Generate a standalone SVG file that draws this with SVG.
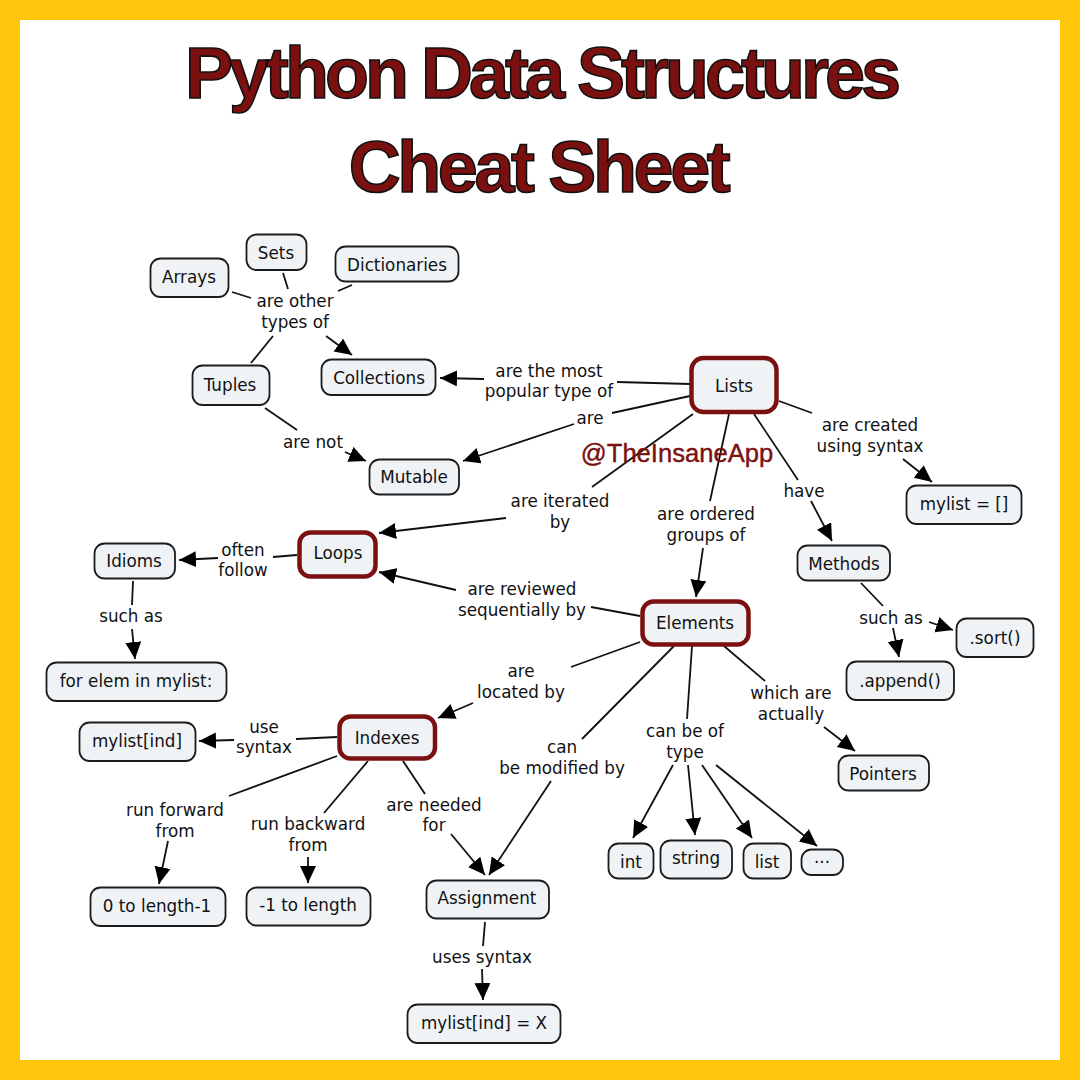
<svg xmlns="http://www.w3.org/2000/svg" width="1080" height="1080" viewBox="0 0 1080 1080">
<style>
.t{font-family:"DejaVu Sans","Liberation Sans",sans-serif;font-size:16.8px;fill:#111;text-anchor:middle;transform:translateY(.6px)}
.n{fill:#eff3f6;stroke:#1c1c1c;stroke-width:1.8}
.h{fill:#eff3f6;stroke:#7b1010;stroke-width:4.5}
.c line{stroke:#111;stroke-width:1.8}
.a{marker-end:url(#ah)}
.title{font-family:"Liberation Sans",Arial,sans-serif;font-weight:bold;font-size:72px;letter-spacing:-4px;fill:#7b1010;stroke:#111;stroke-width:1.6;text-anchor:middle}
</style>
<defs><marker id="ah" markerUnits="userSpaceOnUse" markerWidth="19" markerHeight="17" refX="17" refY="8" orient="auto" viewBox="0 0 19 17"><path d="M0 0L17 8L0 16Z" fill="#000"/></marker></defs>
<rect width="1080" height="1080" fill="#ffc60b"/>
<rect x="20" y="20" width="1040" height="1040" fill="#fff"/>
<text class="title" x="541" y="98">Python Data Structures</text>
<text class="title" x="538" y="192" style="letter-spacing:-3.4px">Cheat Sheet</text>
<g id="connectors" class="c">
<line x1="283" y1="273" x2="288" y2="289"/><line x1="232" y1="292" x2="251" y2="298"/><line x1="352" y1="285" x2="338" y2="291"/><line x1="273" y1="336" x2="251" y2="363"/>
<line class="a" x1="326" y1="336" x2="352" y2="355"/>
<line x1="265" y1="408" x2="297" y2="430"/><line class="a" x1="345" y1="452" x2="366" y2="461"/>
<line x1="690" y1="384" x2="617" y2="382"/><line class="a" x1="484" y1="379" x2="440" y2="378"/>
<line x1="690" y1="396" x2="612" y2="413"/><line class="a" x1="574" y1="424" x2="463" y2="461"/>
<line x1="693" y1="414" x2="592" y2="487"/><line class="a" x1="506" y1="518" x2="379" y2="533"/>
<line x1="729" y1="414" x2="710" y2="501"/><line class="a" x1="703" y1="548" x2="696" y2="597"/>
<line x1="754" y1="414" x2="798" y2="480"/><line class="a" x1="811" y1="501" x2="832" y2="541"/>
<line x1="779" y1="401" x2="812" y2="413"/><line class="a" x1="903" y1="459" x2="932" y2="482"/>
<line x1="640" y1="616" x2="591" y2="607"/><line class="a" x1="456" y1="590" x2="379" y2="572"/>
<line x1="297" y1="555" x2="273" y2="557"/><line class="a" x1="218" y1="558" x2="179" y2="560"/>
<line x1="133" y1="581" x2="132" y2="605"/><line class="a" x1="132" y1="629" x2="135" y2="659"/>
<line x1="861" y1="583" x2="883" y2="606"/><line class="a" x1="929" y1="622" x2="953" y2="630"/><line class="a" x1="893" y1="628" x2="899" y2="657"/>
<line x1="640" y1="642" x2="571" y2="667"/><line class="a" x1="473" y1="703" x2="438" y2="718"/>
<line x1="337" y1="737" x2="296" y2="739"/><line class="a" x1="234" y1="740" x2="199" y2="741"/>
<line x1="337" y1="756" x2="229" y2="796"/><line class="a" x1="168" y1="841" x2="159" y2="884"/>
<line x1="368" y1="761" x2="324" y2="813"/><line class="a" x1="308" y1="857" x2="308" y2="883"/>
<line x1="403" y1="761" x2="425" y2="794"/><line class="a" x1="451" y1="834" x2="485" y2="875"/>
<line x1="674" y1="646" x2="582" y2="739"/><line class="a" x1="551" y1="781" x2="489" y2="875"/>
<line x1="692" y1="646" x2="687" y2="719"/>
<line x1="724" y1="646" x2="765" y2="681"/><line class="a" x1="824" y1="727" x2="855" y2="751"/>
<line class="a" x1="673" y1="765" x2="633" y2="838"/><line class="a" x1="688" y1="765" x2="695" y2="835"/><line class="a" x1="702" y1="765" x2="752" y2="838"/><line class="a" x1="716" y1="765" x2="817" y2="846"/>
<line x1="485" y1="922" x2="483" y2="946"/><line class="a" x1="482" y1="969" x2="483" y2="1000"/>
</g>
<g id="labels">
<text class="t" x="295" y="306">are other</text><text class="t" x="295" y="327">types of</text>
<text class="t" x="313" y="447">are not</text>
<text class="t" x="549" y="376">are the most</text><text class="t" x="549" y="396">popular type of</text>
<text class="t" x="590" y="423">are</text>
<text class="t" x="560" y="506">are iterated</text><text class="t" x="560" y="527">by</text>
<text class="t" x="706" y="519">are ordered</text><text class="t" x="706" y="540">groups of</text>
<text class="t" x="804" y="496">have</text>
<text class="t" x="870" y="430">are created</text><text class="t" x="870" y="451">using syntax</text>
<text class="t" x="522" y="594">are reviewed</text><text class="t" x="522" y="615">sequentially by</text>
<text class="t" x="243" y="555">often</text><text class="t" x="243" y="575">follow</text>
<text class="t" x="131" y="621">such as</text>
<text class="t" x="891" y="623">such as</text>
<text class="t" x="521" y="676">are</text><text class="t" x="521" y="697">located by</text>
<text class="t" x="264" y="732">use</text><text class="t" x="264" y="752">syntax</text>
<text class="t" x="175" y="815">run forward</text><text class="t" x="175" y="836">from</text>
<text class="t" x="308" y="829">run backward</text><text class="t" x="308" y="850">from</text>
<text class="t" x="434" y="810">are needed</text><text class="t" x="434" y="830">for</text>
<text class="t" x="562" y="752">can</text><text class="t" x="562" y="773">be modified by</text>
<text class="t" x="685" y="736">can be of</text><text class="t" x="685" y="757">type</text>
<text class="t" x="791" y="698">which are</text><text class="t" x="791" y="719">actually</text>
<text class="t" x="482" y="962">uses syntax</text>
</g>
<g id="arrays"><rect class="n" x="150.500" y="258.500" width="78" height="38.500" rx="10"/><text class="t" x="189" y="282">Arrays</text></g>
<g id="sets"><rect class="n" x="246.500" y="234.500" width="60" height="35.500" rx="10"/><text class="t" x="276" y="258">Sets</text></g>
<g id="dictionaries"><rect class="n" x="335.500" y="246.500" width="123" height="35" rx="10"/><text class="t" x="397" y="270">Dictionaries</text></g>
<g id="collections"><rect class="n" x="321.500" y="359.500" width="114" height="35.500" rx="10"/><text class="t" x="379" y="383">Collections</text></g>
<g id="tuples"><rect class="n" x="192.500" y="365.500" width="77" height="39.500" rx="10"/><text class="t" x="230" y="390">Tuples</text></g>
<g id="mutable"><rect class="n" x="369.500" y="459.500" width="89.500" height="35" rx="10"/><text class="t" x="414" y="482">Mutable</text></g>
<g id="lists"><rect class="h" x="691.500" y="358" width="85" height="54" rx="12"/><text class="t" x="734" y="391">Lists</text></g>
<g id="mylist-empty"><rect class="n" x="906.500" y="485.500" width="115" height="38.500" rx="10"/><text class="t" x="964" y="509">mylist = []</text></g>
<g id="loops"><rect class="h" x="299.500" y="532.500" width="76" height="44" rx="11"/><text class="t" x="338" y="558">Loops</text></g>
<g id="idioms"><rect class="n" x="94.500" y="543.500" width="80.500" height="35" rx="10"/><text class="t" x="134" y="566">Idioms</text></g>
<g id="for-elem"><rect class="n" x="46.500" y="662.500" width="180" height="38.500" rx="10"/><text class="t" x="136" y="686">for elem in mylist:</text></g>
<g id="methods"><rect class="n" x="797.500" y="545.500" width="92.500" height="35" rx="10"/><text class="t" x="844" y="569">Methods</text></g>
<g id="elements"><rect class="h" x="642.500" y="601.500" width="106" height="43" rx="11"/><text class="t" x="695" y="628">Elements</text></g>
<g id="sort"><rect class="n" x="956.500" y="618.500" width="77" height="38.500" rx="10"/><text class="t" x="995" y="643">.sort()</text></g>
<g id="append"><rect class="n" x="846.500" y="661.500" width="107.500" height="38.500" rx="10"/><text class="t" x="900" y="686">.append()</text></g>
<g id="mylist-ind"><rect class="n" x="79.500" y="722.500" width="116" height="38.500" rx="10"/><text class="t" x="137" y="746">mylist[ind]</text></g>
<g id="indexes"><rect class="h" x="339.500" y="716.500" width="95.500" height="42" rx="11"/><text class="t" x="387" y="743">Indexes</text></g>
<g id="pointers"><rect class="n" x="838.500" y="755.500" width="90.500" height="35" rx="10"/><text class="t" x="883" y="779">Pointers</text></g>
<g id="int"><rect class="n" x="608.500" y="843.500" width="45" height="35" rx="10"/><text class="t" x="631" y="867">int</text></g>
<g id="string"><rect class="n" x="660.500" y="840.500" width="71.500" height="38" rx="10"/><text class="t" x="696" y="863">string</text></g>
<g id="list"><rect class="n" x="743.500" y="843.500" width="47.500" height="35" rx="10"/><text class="t" x="767" y="867">list</text></g>
<g id="more"><rect class="n" x="801.500" y="849.500" width="41.500" height="25.500" rx="10"/><text class="t" x="822" y="862">...</text></g>
<g id="zero-to"><rect class="n" x="90.500" y="887.500" width="135" height="38.500" rx="10"/><text class="t" x="157" y="911">0 to length-1</text></g>
<g id="minus-one-to"><rect class="n" x="246.500" y="887.500" width="124" height="38" rx="10"/><text class="t" x="308" y="910">-1 to length</text></g>
<g id="assignment"><rect class="n" x="426.500" y="880.500" width="122.500" height="38" rx="10"/><text class="t" x="487" y="903">Assignment</text></g>
<g id="mylist-assign"><rect class="n" x="407.500" y="1004.500" width="153" height="38.500" rx="10"/><text class="t" x="484" y="1028">mylist[ind] = X</text></g>
<text x="677" y="462" font-family="'Liberation Sans',Arial,sans-serif" font-size="25.600" fill="#7b1010" stroke="#7b1010" stroke-width="0.400" text-anchor="middle">@TheInsaneApp</text>
</svg>
